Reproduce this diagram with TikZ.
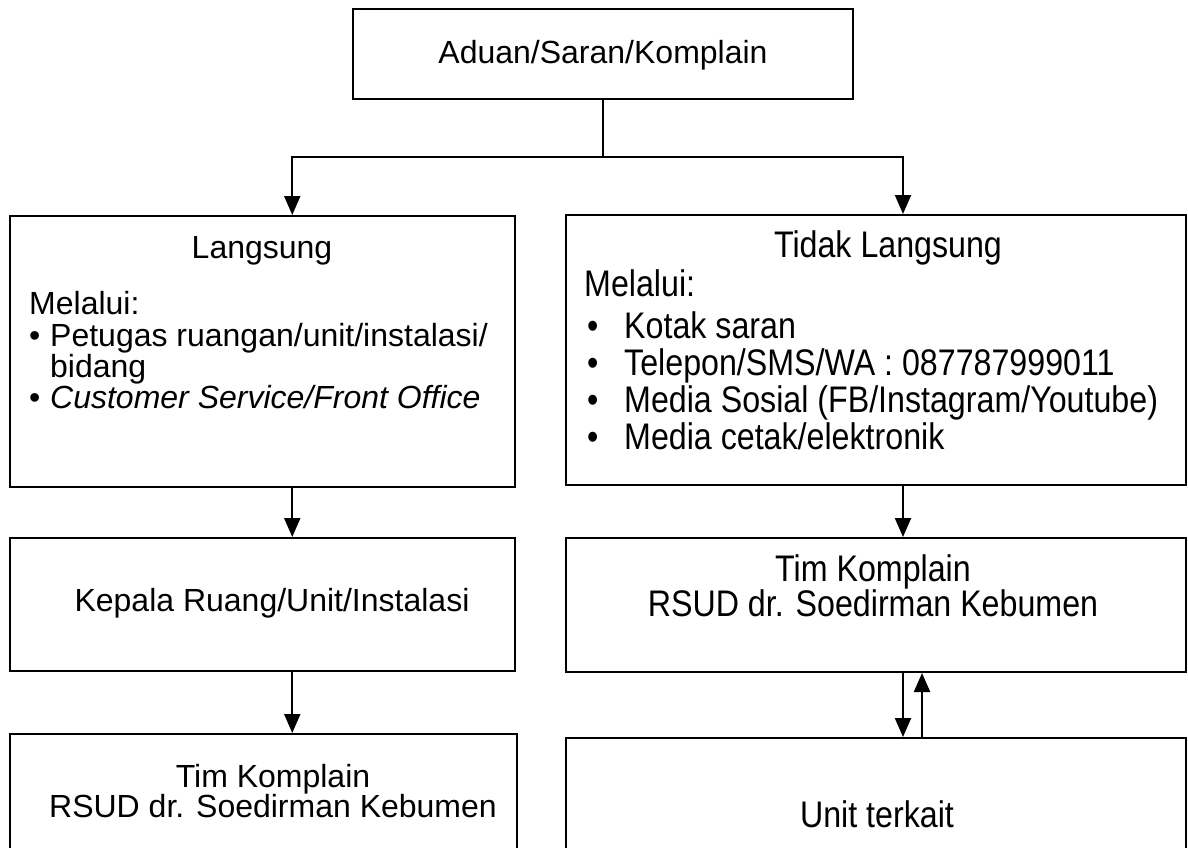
\documentclass[tikz,border=0pt]{standalone}
\usepackage{fontspec}
\setmainfont{Liberation Sans}
\newfontfamily\narrowsans[FakeStretch=0.87]{Liberation Sans}
\usetikzlibrary{arrows.meta,positioning}
\tikzset{block/.style = {draw, line width=2pt, rectangle, inner sep=0pt},
         flow/.style = {line width=2pt, -{Triangle[length=19pt,width=16pt]}},
         lefttext/.style = {inner sep=0pt, font=\fontsize{32}{32}\selectfont},
         righttext/.style = {inner sep=0pt, font=\narrowsans\fontsize{37}{37}\selectfont}}

\begin{document}
\begin{tikzpicture}[x=1pt,y=-1pt]
        \useasboundingbox (0,0) rectangle (1188,847);

        % boxes
        \node[block, minimum width=500pt, minimum height=90pt] (aduan) at (603,54) {};
        \node[block, minimum width=505.5pt, minimum height=271pt] (langsung) at (262.25,351.5) {};
        \node[block, minimum width=620pt, minimum height=270pt] (tidak) at (876,350) {};
        \node[block, minimum width=505.5pt, minimum height=133pt] (kepala) at (262.25,604.5) {};
        \node[block, minimum width=620pt, minimum height=134pt] (timkanan) at (876,605) {};
        \node[block, minimum width=507.5pt, minimum height=166pt] (timkiri) at (263.25,817) {};
        \node[block, minimum width=620pt, minimum height=162pt] (unit) at (876,819) {};

        % texts
        \node[lefttext, anchor=base] (aduanTxt) at (603,63) {Aduan/Saran/Komplain};

        \node[lefttext, anchor=base] (langsungTxt) at (262,258) {Langsung};
        \node[lefttext, anchor=base west] (melaluiL) at (29,314) {Melalui:};
        \node[lefttext, anchor=base west] (petugas) at (29,346) {\makebox[21pt][l]{•}Petugas ruangan/unit/instalasi/};
        \node[lefttext, anchor=base west] (bidang) at (50,377) {bidang};
        \node[lefttext, anchor=base west] (cs) at (29,408) {\makebox[21pt][l]{•}\textit{Customer Service/Front Office}};

        \node[righttext, anchor=base] (tidakTxt) at (888,257) {Tidak Langsung};
        \node[righttext, anchor=base west] (melaluiR) at (584,296) {Melalui:};
        \node[righttext, anchor=base west] (kotak) at (587,338) {\makebox[37pt][l]{•}Kotak saran};
        \node[righttext, anchor=base west] (telepon) at (587,375) {\makebox[37pt][l]{•}Telepon/SMS/WA : 087787999011};
        \node[righttext, anchor=base west] (medsos) at (587,412) {\makebox[37pt][l]{•}Media Sosial (FB/Instagram/Youtube)};
        \node[righttext, anchor=base west] (cetak) at (587,449) {\makebox[37pt][l]{•}Media cetak/elektronik};

        \node[lefttext, anchor=base] (kepalaTxt) at (272,611) {Kepala Ruang/Unit/Instalasi};
        \node[righttext, anchor=base] (timkananA) at (873,581) {Tim Komplain};
        \node[righttext, anchor=base] (timkananB) at (873,616) {RSUD dr. Soedirman Kebumen};

        \node[lefttext, anchor=base] (timkiriA) at (273,787) {Tim Komplain};
        \node[lefttext, anchor=base] (timkiriB) at (273,817) {RSUD dr. Soedirman Kebumen};
        \node[righttext, anchor=base] (unitTxt) at (877,827) {Unit terkait};

        % connectors
        \coordinate (split) at (603,157);
        \draw[line width=2pt] (aduan.south) -- (split);
        \draw[flow] (split) -| ([xshift=30pt]langsung.north);
        \draw[flow] (split) -| ([xshift=27pt]tidak.north);
        \draw[flow] ([xshift=30pt]langsung.south) -- ([xshift=30pt]kepala.north);
        \draw[flow] ([xshift=30pt]kepala.south) -- ([xshift=29pt]timkiri.north);
        \draw[flow] ([xshift=27pt]tidak.south) -- ([xshift=27pt]timkanan.north);
        \draw[flow] ([xshift=27pt]timkanan.south) -- ([xshift=27pt]unit.north);
        \draw[flow] ([xshift=46pt]unit.north) -- ([xshift=46pt]timkanan.south);
\end{tikzpicture}
\end{document}
